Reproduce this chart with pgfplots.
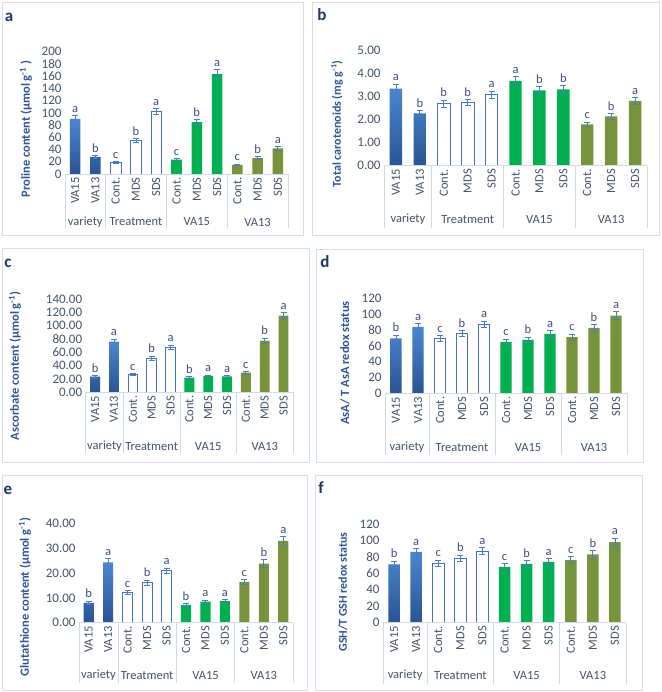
\documentclass[border=0pt]{standalone}
\usepackage{fontspec}
\setmainfont{Carlito}
\usepackage{pgfplots}
\usepackage{pgfplotstable}
\pgfplotsset{compat=1.18}

\definecolor{frm}{HTML}{D6DEEC}
\definecolor{tblc}{HTML}{D3D9E3}
\definecolor{tickc}{HTML}{44546A}
\definecolor{letc}{HTML}{3A5080}
\definecolor{labc}{HTML}{2F5597}
\definecolor{pan}{HTML}{1F3864}
\definecolor{blueT}{HTML}{4A86D0}
\definecolor{blueB}{HTML}{2A5494}
\definecolor{trtc}{HTML}{4472C4}
\definecolor{grn}{HTML}{00B050}
\definecolor{olv}{HTML}{77933C}
\definecolor{errc}{HTML}{4A7EC4}

\pgfplotstableread{
x y e lab
0 90 5 a
1 28 2 b
2 19 1 c
3 55 3 b
4 102 5 a
5 23.5 2 c
6 85 4 b
7 163.5 7 a
8 15 1 c
9 26 2 b
10 42 3 a
}\tbla
\pgfplotstableread{
x y e lab
0 3.33 0.19 a
1 2.26 0.12 b
2 2.68 0.15 b
3 2.72 0.13 b
4 3.07 0.15 a
5 3.67 0.18 a
6 3.26 0.17 b
7 3.30 0.16 b
8 1.79 0.10 c
9 2.13 0.12 b
10 2.80 0.15 a
}\tblb
\pgfplotstableread{
x y e lab
0 23.5 2 b
1 76 4 a
2 26.5 1.5 c
3 51.5 3 b
4 68 3 a
5 22 1.5 b
6 24.5 1.5 a
7 24 1.5 a
8 29.5 2 c
9 77.5 4 b
10 115 5 a
}\tblc
\pgfplotstableread{
x y e lab
0 69.5 4 b
1 84 4 a
2 69 3.5 c
3 75.5 4 b
4 87 4 a
5 65 3.5 c
6 67.5 3.5 b
7 75 4 a
8 71 4 c
9 82.5 4 b
10 98 5 a
}\tbld
\pgfplotstableread{
x y e lab
0 8 0.7 b
1 24.3 1.5 a
2 12 0.8 c
3 16.2 1 b
4 21 1 a
5 7.2 0.5 b
6 8.5 0.6 a
7 8.7 0.6 a
8 16.4 1 c
9 23.8 1.5 b
10 32.9 1.8 a
}\tble
\pgfplotstableread{
x y e lab
0 71 4 b
1 86 4 a
2 72 4 c
3 78 4 b
4 87 4 a
5 68 4 c
6 71.5 4 b
7 74 4 a
8 76 4.5 c
9 83 4.5 b
10 98 5 a
}\tblf

\pgfplotsset{
  panel/.style={
    scale only axis, anchor=south west,
    xmin=-0.5, xmax=10.5, ymin=0,
    axis x line*=bottom, axis y line*=left,
    axis line style={draw=none}, tick style={draw=none},
    xtick={0,...,10},
    xticklabels={VA15,VA13,Cont.,MDS,SDS,Cont.,MDS,SDS,Cont.,MDS,SDS},
    xticklabel style={rotate=90, anchor=east, font=\fontsize{12.5}{13}\selectfont, text=tickc},
    yticklabel style={font=\fontsize{13}{14}\selectfont, text=tickc},
    /pgf/number format/assume math mode=true,
    /pgf/number format/1000 sep={},
    bar width=0.52, clip=false,
  },
  eb/.style={error bars/.cd, y dir=both, y explicit,
    error bar style={draw=errc, line width=0.8pt, solid},
    error mark options={rotate=90, mark size=3pt, draw=errc, line width=0.8pt}},
  zf/.style={/pgf/number format/fixed, /pgf/number format/fixed zerofill, /pgf/number format/precision=2},
}
\tikzset{
  tblline/.style={draw=tblc, line width=0.8pt},
  grp/.style={font=\fontsize{12.5}{13}\selectfont, text=tickc, anchor=center, inner sep=0pt},
  ylab/.style={rotate=90, anchor=center, font=\bfseries\fontsize{12.5}{14}\selectfont, text=labc},
  plet/.style={anchor=center, font=\bfseries\fontsize{17}{18}\selectfont, text=pan},
}

\newcommand\bars[1]{%
\addplot[ybar, bar shift=0pt, draw=none, top color=blueT, bottom color=blueB, restrict x to domain=-0.1:1.1, eb] table[x=x,y=y,y error=e]{#1};
\addplot[ybar, bar shift=0pt, draw=trtc, fill=white, line width=0.8pt, restrict x to domain=1.9:4.1, eb] table[x=x,y=y,y error=e]{#1};
\addplot[ybar, bar shift=0pt, draw=none, fill=grn, restrict x to domain=4.9:7.1, eb] table[x=x,y=y,y error=e]{#1};
\addplot[ybar, bar shift=0pt, draw=none, fill=olv, restrict x to domain=7.9:10.1, eb] table[x=x,y=y,y error=e]{#1};
\addplot[draw=none, mark=none, nodes near coords, point meta=explicit symbolic,
  every node near coord/.append style={font=\fontsize{12.5}{13}\selectfont, text=letc, anchor=south, inner sep=1pt, yshift=2pt}]
  table[x=x, y expr=\thisrow{y}+\thisrow{e}, meta=lab]{#1};
}
\newcommand\decor[2]{%
\draw[tblline] (axis cs:-0.5,0) -- (axis cs:10.5,0);
\draw[tblline] (axis cs:-0.5,0) -- ([yshift=-#1pt]axis cs:-0.5,0);
\draw[tblline] (axis cs:1.5,0) -- ([yshift=-#1pt]axis cs:1.5,0);
\draw[tblline] (axis cs:4.5,0) -- ([yshift=-#1pt]axis cs:4.5,0);
\draw[tblline] (axis cs:7.5,0) -- ([yshift=-#1pt]axis cs:7.5,0);
\draw[tblline] (axis cs:10.5,0) -- ([yshift=-#1pt]axis cs:10.5,0);
\node[grp] at ([yshift=-#2pt]axis cs:0.5,0) {variety};
\node[grp] at ([yshift=-#2pt]axis cs:3,0) {Treatment};
\node[grp] at ([yshift=-#2pt]axis cs:6,0) {VA15};
\node[grp] at ([yshift=-#2pt]axis cs:9,0) {VA13};
}

\begin{document}
\begin{tikzpicture}[x=1pt,y=1pt]
\path[use as bounding box, fill=white] (0,0) rectangle (661,692);
% panel frames
\draw[frm, line width=0.8pt] (2,457) rectangle (303,690);
\draw[frm, line width=0.8pt] (312,457) rectangle (659,690);
\draw[frm, line width=0.8pt] (2,230) rectangle (309,444);
\draw[frm, line width=0.8pt] (316,230) rectangle (643,443);
\draw[frm, line width=0.8pt] (2,2) rectangle (307,217);
\draw[frm, line width=0.8pt] (315,2) rectangle (642,217);
% panel letters
\node[plet] at (9,675) {a};
\node[plet] at (322,677) {b};
\node[plet] at (8,429) {c};
\node[plet] at (325,430) {d};
\node[plet] at (8,202) {e};
\node[plet] at (321,204) {f};
% y labels
\node[ylab] at (26,563) {Proline content (µmol g\textsuperscript{-1} )};
\node[ylab, font=\bfseries\fontsize{12}{13}\selectfont] at (337,568) {Total carotenoids (mg g\textsuperscript{-1})};
\node[ylab] at (15,326) {Ascorbate content (µmol g\textsuperscript{-1})};
\node[ylab] at (345,329) {AsA/ T AsA redox status};
\node[ylab] at (25,95) {Glutathione content (µmol g\textsuperscript{-1})};
\node[ylab, font=\bfseries\fontsize{12}{13}\selectfont] at (343,100) {GSH/T GSH redox status};

% a
\begin{axis}[panel, at={(65pt,518pt)}, width=223pt, height=122.3pt, ymax=200, ytick distance=20]
\bars{\tbla}
\decor{54}{48}
\end{axis}
% b
\begin{axis}[panel, zf, at={(384pt,526.3pt)}, width=263pt, height=115.7pt, ymax=5, ytick distance=1]
\bars{\tblb}
\decor{62}{54}
\end{axis}
% c
\begin{axis}[panel, zf, at={(85.7pt,299.7pt)}, width=207.3pt, height=93.3pt, ymax=140, ytick distance=20]
\bars{\tblc}
\decor{61}{54}
\end{axis}
% d
\begin{axis}[panel, at={(385pt,298.7pt)}, width=242pt, height=95pt, ymax=120, ytick distance=20]
\bars{\tbld}
\decor{62}{54}
\end{axis}
% e
\begin{axis}[panel, zf, at={(79pt,69.3pt)}, width=214pt, height=99.4pt, ymax=40, ytick distance=10]
\bars{\tble}
\decor{60}{53}
\end{axis}
% f
\begin{axis}[panel, at={(383pt,69.3pt)}, width=243pt, height=98.7pt, ymax=120, ytick distance=20]
\bars{\tblf}
\decor{61}{53}
\end{axis}
\end{tikzpicture}
\end{document}
